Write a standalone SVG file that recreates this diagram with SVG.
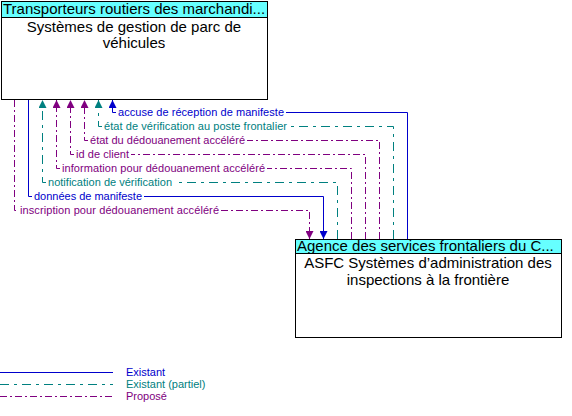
<svg xmlns="http://www.w3.org/2000/svg" width="572" height="416" viewBox="0 0 572 416">
<defs>
<style>
.box{fill:#fff;stroke:#000;stroke-width:1}
.hdr{fill:#66ffff;stroke:#000;stroke-width:1}
.t{font-family:"Liberation Sans",Arial,sans-serif;font-size:15px;fill:#000}
.lb{font-family:"Liberation Sans",Arial,sans-serif;font-size:11px}
.c{fill:none;stroke-width:1}
.ex{stroke:#0000cc}
.pa{stroke:#008080;stroke-dasharray:9,5,3,5}
.pr{stroke:#800080;stroke-dasharray:7,3,2,3}
.fex{fill:#0000cc}
.fpa{fill:#008080}
.fpr{fill:#800080}
</style>
<marker id="aex" viewBox="0 0 8 8" refX="8" refY="4" markerWidth="8" markerHeight="8" markerUnits="userSpaceOnUse" orient="auto"><path d="M0,0L8,4L0,8z" fill="#0000cc"/></marker>
<marker id="apa" viewBox="0 0 8 8" refX="8" refY="4" markerWidth="8" markerHeight="8" markerUnits="userSpaceOnUse" orient="auto"><path d="M0,0L8,4L0,8z" fill="#008080"/></marker>
<marker id="apr" viewBox="0 0 8 8" refX="8" refY="4" markerWidth="8" markerHeight="8" markerUnits="userSpaceOnUse" orient="auto"><path d="M0,0L8,4L0,8z" fill="#800080"/></marker>
</defs>
<rect width="572" height="416" fill="#fff"/>
<g id="node-transporteurs">
<rect class="box" x="1.5" y="1.5" width="266" height="98"/>
<rect class="hdr" x="1.5" y="1.5" width="266" height="16"/>
<text class="t" x="3" y="14">Transporteurs routiers des marchandi...</text>
<text class="t" x="134" y="32" text-anchor="middle">Systèmes de gestion de parc de</text>
<text class="t" x="134" y="48" text-anchor="middle">véhicules</text>
</g>
<g id="node-asfc">
<rect class="box" x="295.5" y="239.5" width="266" height="98"/>
<rect class="hdr" x="295.5" y="239.5" width="266" height="14"/>
<text class="t" x="297" y="251">Agence des services frontaliers du C...</text>
<text class="t" x="428" y="268" text-anchor="middle">ASFC Systèmes d’administration des</text>
<text class="t" x="428" y="285" text-anchor="middle">inspections à la frontière</text>
</g>
<g id="connectors">
<path class="c ex" d="M407.5,239V112.5H286M116,112.5H112.5V100" marker-end="url(#aex)"/>
<path class="c pa" d="M393.5,239V126.5H289M102,126.5H98.5V100" marker-end="url(#apa)"/>
<path class="c pr" d="M379.5,239V140.5H247M88,140.5H84.5V100" marker-end="url(#apr)"/>
<path class="c pr" d="M365.5,239V154.5H131M74,154.5H70.5V100" marker-end="url(#apr)"/>
<path class="c pr" d="M351.5,239V168.5H267M60,168.5H56.5V100" marker-end="url(#apr)"/>
<path class="c pa" d="M337.5,239V182.5H174M46,182.5H42.5V100" marker-end="url(#apa)"/>
<path class="c ex" d="M28.5,100V196.5H32M144,196.5H323.5V239" marker-end="url(#aex)"/>
<path class="c pr" d="M14.5,100V210.5H18M221,210.5H309.5V239" marker-end="url(#apr)"/>
<text class="lb fex" x="118" y="116" textLength="166">accuse de réception de manifeste</text>
<text class="lb fpa" x="104" y="130" textLength="183">état de vérification au poste frontalier</text>
<text class="lb fpr" x="90" y="144" textLength="155">état du dédouanement accéléré</text>
<text class="lb fpr" x="76" y="158" textLength="53">id de client</text>
<text class="lb fpr" x="62" y="172" textLength="203">information pour dédouanement accéléré</text>
<text class="lb fpa" x="48" y="186" textLength="124">notification de vérification</text>
<text class="lb fex" x="34" y="200" textLength="108">données de manifeste</text>
<text class="lb fpr" x="20" y="214" textLength="199">inscription pour dédouanement accéléré</text>
</g>
<g id="legend">
<line class="c ex" x1="0" y1="372.5" x2="113" y2="372.5"/>
<line class="c pa" x1="0" y1="384.5" x2="113" y2="384.5"/>
<line class="c pr" x1="0" y1="396.5" x2="113" y2="396.5"/>
<text class="lb fex" x="126" y="376">Existant</text>
<text class="lb fpa" x="126" y="388">Existant (partiel)</text>
<text class="lb fpr" x="126" y="400">Proposé</text>
</g>
</svg>
